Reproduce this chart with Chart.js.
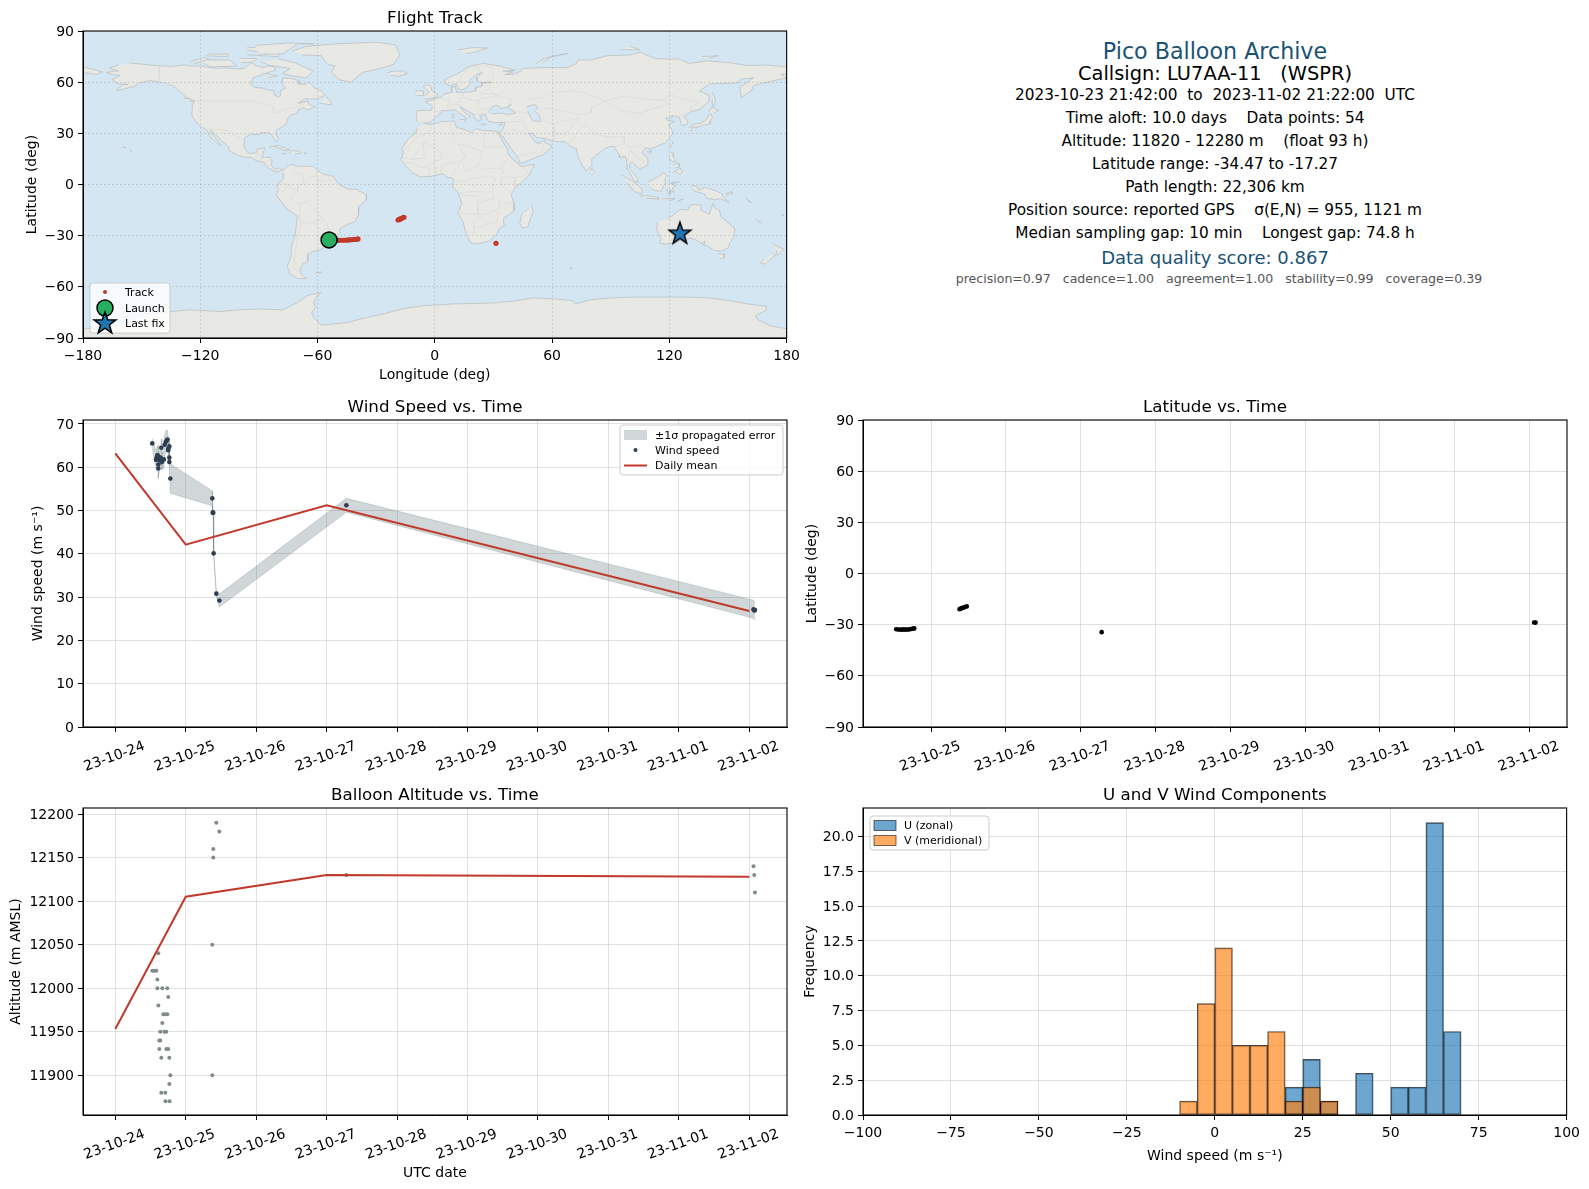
<!DOCTYPE html>
<html>
<head>
<meta charset="utf-8">
<title>Pico Balloon Archive</title>
<script src="https://cdn.jsdelivr.net/npm/chart.js"></script>
<style>
  html, body { margin: 0; background: #fff; }
  #page { position: relative; width: 1589px; height: 1189px; overflow: hidden; font-family: "DejaVu Sans", sans-serif; }
  canvas { position: absolute; }
  .info { position: absolute; left: 863px; width: 704px; text-align: center; white-space: pre; transform: translateY(-50%); color: #000; font-size: 15.3px; }
</style>
</head>
<body>
<div id="page"></div>
<script>
// flight data, days are counted from 2023-10-24 00:00 UTC
const windDays = [0.525, 0.578, 0.587, 0.597, 0.611, 0.611, 0.611, 0.625, 0.643, 0.653, 0.662, 0.69, 0.701, 0.715, 0.729, 0.743, 0.752, 0.752, 0.767, 0.767, 0.767, 0.781, 1.377, 1.382, 1.391, 1.396, 1.434, 1.477, 3.28, 9.06, 9.07, 9.08];
const windSpeed = [65.5, 61.7, 62.2, 62.8, 62.5, 60.6, 59.7, 61.6, 62.2, 64.5, 61.2, 61.8, 65.2, 65.8, 66.2, 66.4, 64.3, 63.9, 64.8, 62.2, 61.2, 57.4, 52.8, 49.5, 49.5, 40.1, 30.8, 29.2, 51.2, 27.2, 26.9, 27.0];
const windSigma = [1.2, 2.0, 2.2, 2.0, 2.5, 2.5, 2.3, 2.0, 1.8, 2.0, 1.8, 2.0, 2.3, 2.5, 2.5, 2.0, 1.5, 1.5, 1.2, 1.0, 0.8, 3.4, 1.7, 0.6, 0.6, 0.6, 0.7, 1.5, 1.6, 2.1, 2.1, 2.1];

const meanDays = [0, 1, 3, 9];
const meanWind = [63.2, 42.1, 51.2, 26.8];
const meanAltitude = [11953, 12105, 12130, 12128];

const altDays = [0.525, 0.553, 0.582, 0.597, 0.597, 0.611, 0.611, 0.625, 0.625, 0.639, 0.639, 0.653, 0.653, 0.667, 0.667, 0.681, 0.696, 0.71, 0.71, 0.713, 0.724, 0.724, 0.738, 0.738, 0.752, 0.752, 0.767, 0.767, 0.771, 0.781, 1.377, 1.377, 1.391, 1.391, 1.434, 1.477, 3.28, 9.06, 9.07, 9.08];
const altitude = [12020, 12020, 12020, 12010, 12000, 12040, 11980, 11940, 11930, 11950, 11940, 11920, 11880, 12000, 11960, 11970, 11950, 11970, 11880, 11870, 11950, 11930, 12000, 11970, 11990, 11930, 11920, 11890, 11870, 11900, 12050, 11900, 12160, 12150, 12190, 12180, 12130, 12140, 12130, 12110];

const latDays = [0.534, 0.564, 0.595, 0.615, 0.635, 0.655, 0.675, 0.696, 0.716, 0.736, 0.756, 0.776, 1.381, 1.396, 1.411, 1.431, 1.452, 1.477, 3.28, 9.06, 9.08];
const latitude = [-32.7, -32.9, -32.9, -32.9, -32.8, -32.9, -32.8, -32.8, -32.7, -32.5, -32.3, -32.2, -20.9, -20.6, -20.3, -20.0, -19.7, -19.3, -34.4, -28.7, -28.8];

const trackLon = [-54.1, -52.5, -51, -49.5, -48, -46.5, -45, -44, -43, -42, -41, -40, -39.3, -18.8, -18.2, -17.6, -17, -16.4, -15.8, 31.3];
const trackLat = [-32.5, -32.8, -32.8, -32.8, -32.7, -32.7, -32.6, -32.5, -32.4, -32.3, -32.2, -32.1, -31.9, -20.8, -20.5, -20.2, -19.8, -19.5, -19.2, -34.5];
const launchFix = [-54.1, -32.5];
const lastFix = [125.4, -28.6];

const binEdges = [-100, -95, -90, -85, -80, -75, -70, -65, -60, -55, -50, -45, -40, -35, -30, -25, -20, -15, -10, -5, 0, 5, 10, 15, 20, 25, 30, 35, 40, 45, 50, 55, 60, 65, 70, 75, 80, 85, 90, 95];
const uCounts = [0, 0, 0, 0, 0, 0, 0, 0, 0, 0, 0, 0, 0, 0, 0, 0, 0, 0, 0, 0, 0, 0, 0, 0, 2, 4, 1, 0, 3, 0, 2, 2, 21, 6, 0, 0, 0, 0, 0, 0];
const vCounts = [0, 0, 0, 0, 0, 0, 0, 0, 0, 0, 0, 0, 0, 0, 0, 0, 0, 0, 1, 8, 12, 5, 5, 6, 1, 2, 1, 0, 0, 0, 0, 0, 0, 0, 0, 0, 0, 0, 0, 0];

const infoLines = [
  "Pico Balloon Archive",
  "Callsign: LU7AA-11   (WSPR)",
  "2023-10-23 21:42:00  to  2023-11-02 21:22:00  UTC",
  "Time aloft: 10.0 days    Data points: 54",
  "Altitude: 11820 - 12280 m    (float 93 h)",
  "Latitude range: -34.47 to -17.27",
  "Path length: 22,306 km",
  "Position source: reported GPS    σ(E,N) = 955, 1121 m",
  "Median sampling gap: 10 min    Longest gap: 74.8 h",
  "Data quality score: 0.867",
  "precision=0.97   cadence=1.00   agreement=1.00   stability=0.99   coverage=0.39",
];

// map outlines as [lon, lat]
const northAmerica = [[-156.6,71.3],[-152,70.8],[-145,70],[-140.9,69.6],[-135,69.2],[-128,70.2],[-125,69.5],[-120,69.5],[-115,68.5],[-110,68],[-108,68.5],[-102,67.8],[-98,68],[-96,69.5],[-94,71.5],[-92,70],[-88,68.5],[-85,69.5],[-82,69],[-81.5,67],[-87,65],[-93,62.5],[-94.5,59],[-92.5,57],[-88,56.5],[-85,55.3],[-82.3,55],[-82,52.5],[-80,51.3],[-78.7,52.5],[-79,55],[-76.5,56.5],[-78,59],[-78,62.4],[-73.5,62.3],[-70,61],[-69.5,58.8],[-66,58.8],[-64.5,60.3],[-61.5,56.5],[-58,54.8],[-56,52.5],[-60,50.2],[-66.5,50.2],[-70,47.5],[-65,49],[-64.5,47],[-61,45.5],[-65.5,43.7],[-67,45],[-70,43.7],[-70.5,41.7],[-74,40.6],[-75.5,38],[-76,35.5],[-78,33.9],[-81,32],[-81.3,30],[-80,26.8],[-80.5,25.2],[-81.8,26],[-82.8,28],[-84,30],[-86,30.4],[-89.5,30.2],[-90,29.1],[-94,29.6],[-97.2,27.5],[-97.7,22.5],[-95.8,18.8],[-94.5,18.2],[-91.5,18.5],[-90.5,21],[-87,21.5],[-87.8,18.3],[-88.5,16],[-84,15.8],[-83.3,14.8],[-83.6,11],[-82,9],[-79.5,9.6],[-77.3,8.5],[-78.5,8.4],[-80.5,7.3],[-83,8.3],[-85.7,10],[-87.5,13],[-91.5,14],[-94,16],[-96.5,15.7],[-101.5,17.5],[-105.5,20],[-105.5,22],[-109,25.6],[-112.5,29.5],[-114.7,31.7],[-114.5,30],[-112.5,27.5],[-110.5,24.5],[-109.5,23],[-110,23],[-112,25],[-115,28],[-116,30.5],[-117.2,32.5],[-120.5,34.5],[-122.5,37.5],[-124.3,40.3],[-124,46.5],[-122.8,49],[-127,51],[-130.5,54.5],[-134,58],[-139.5,59.8],[-146,61],[-151,59.5],[-154,57.5],[-158,56.3],[-163,54.8],[-160,58.5],[-157,58.8],[-162,59],[-165,61.5],[-161,64],[-165,64.5],[-168,65.6],[-164,66.5],[-162,66.5],[-166.5,68.3],[-162,70]];
const southAmerica = [[-77.3,8.5],[-75.5,10.7],[-72,12],[-71.5,10.8],[-68,10.7],[-62,10.7],[-60,8.4],[-57,6],[-52,4.8],[-50,1.5],[-48.5,-0.5],[-44.5,-2.6],[-40,-2.9],[-37,-4.9],[-35,-6],[-35,-9],[-39,-13],[-39,-17.5],[-41,-22],[-44.5,-23.2],[-48.5,-26],[-48.7,-28.5],[-52,-32.2],[-54,-34.5],[-58.3,-34.2],[-57,-36.5],[-58,-38.3],[-62,-39],[-65,-41],[-65,-45],[-67.5,-46.5],[-69,-50.5],[-68.5,-52.5],[-65.5,-55],[-70,-55.2],[-74,-52.5],[-75.5,-48],[-73.5,-42],[-73.5,-37],[-71.5,-30],[-70.3,-18.5],[-76,-14],[-81.2,-6],[-80,-3],[-80.8,-1],[-78.5,2],[-77.2,4],[-77.5,7]];
const africa = [[-6,35.8],[-2,35.2],[3,36.8],[10,37.3],[11,33.5],[15,32.3],[19,30.3],[21,32.8],[25,31.7],[32,31.2],[32.5,30],[33.8,27],[37,21],[37.5,18],[39.5,15],[43,12],[44,10.5],[51,11.8],[48,5],[41,-2],[39,-6],[40.5,-11],[40.5,-15.5],[35,-20],[35.5,-24],[32.8,-26],[32,-29],[28,-33],[25,-34],[20,-34.8],[18.3,-34],[16,-29],[14.5,-22],[11.8,-17],[13.8,-11],[12,-5],[9,-1],[9.7,3.5],[6,4.3],[4.5,6.3],[-2,4.8],[-7.5,4.4],[-11.5,7],[-15,11],[-17.3,14.7],[-16,19],[-17,21],[-13,27.6],[-9.8,30],[-9,33]];
const eurasia = [[-5.5,36],[-2,36.8],[0,39],[3,42],[3.5,43.3],[6.5,43.2],[10,44],[12,42],[15.5,40],[16,38],[17,39],[18.3,40],[15.5,42],[13,45.5],[14,45],[17,43],[19.5,41.5],[20,39.5],[22,37],[24,38],[23,40.5],[26,41],[26.5,39],[27.5,37],[30.5,36.3],[36,36.5],[35,33],[34.5,31.5],[32.5,30.5],[34.5,28],[35,28],[39,21],[42.5,16],[43.5,12.7],[45,12.8],[52,16],[55.5,17.5],[59,21],[59.8,22.8],[56.5,24.5],[56,26.3],[54,24.2],[51.5,24.5],[50.2,26.5],[48,30],[50,30],[52,27.5],[56.5,27],[61,25.2],[67,25],[69,22.5],[72.5,21],[73,17],[75,12],[77.5,8],[80,11],[80.3,15],[83,17.5],[87,21],[89,22],[91.5,22.5],[94.3,17.5],[94.5,16],[97.5,16.5],[98.5,12],[98.5,9],[100.5,5.5],[101.5,2.7],[104,1.3],[103.5,4],[102,6.5],[100,8.5],[99.5,11.5],[100.8,13.4],[103,11],[105,8.8],[106.5,10],[109,11.5],[109,15],[106,19],[108,21.5],[110.5,21],[114,22.5],[118,24.5],[120.5,28],[122,30.5],[121,32.5],[119.5,35],[122.5,37],[119,37.5],[118,39],[121.5,39],[121,40.5],[125,39.7],[125.5,37.5],[126.5,34.5],[129,35.2],[129.5,37],[127.5,39.7],[129.8,41.5],[131,42.7],[135.5,44],[140,48.5],[140.5,52],[137,54],[135.3,54.8],[141,59],[148,59.3],[155,59.5],[156.5,61.8],[163,62.5],[160,60],[156,57],[156.7,51],[162,55],[163,58],[170,60],[179.9,62.5],[177,64.5],[180,65],[180,69],[170,70],[160,69.8],[150,71.5],[140,72.5],[130,71],[125,73.5],[113,73.7],[105,77.5],[100,76],[88,75.5],[80,73],[73,73],[72.5,71],[68,68.5],[60,68.5],[55,68.5],[45,68],[44,66.5],[40,64.5],[36,64.5],[40,66],[35,66.5],[41,67],[33,69.5],[25,71],[18,69.5],[12.5,65.5],[5,61.5],[5.5,58.8],[8,58],[11,59],[12,56],[13,55.4],[16,56.2],[18.5,60],[17.5,61],[21.5,64.5],[24.5,65.8],[21.5,63],[21.5,61],[23,60],[29,60],[24,59.3],[24,57.5],[21,57],[21,55],[19,54.4],[14,54],[11,54],[10.5,57.5],[8.3,57],[8.7,54],[5,53.2],[3.5,51.5],[1.5,50.8],[-1.5,49.7],[-4.7,48.5],[-1.2,46],[-1.8,43.5],[-9,43.5],[-9.5,38.5],[-9,37]];
const greenland = [[-73,78.2],[-66,81],[-50,82.5],[-30,83.5],[-20,81.8],[-18,76],[-21,70.5],[-27,68.3],[-37,65.7],[-43,60],[-49,61.5],[-53,66],[-51,69.5],[-55,70.5],[-58,75.5],[-68,76]];
const australia = [[114,-22],[113.5,-26],[115.7,-32],[115,-34.3],[118,-35],[123.5,-33.9],[126,-32.3],[131,-31.5],[134,-32.8],[137.8,-35.3],[138,-33],[136.5,-35],[139.5,-36],[143,-38.7],[146.5,-39],[150,-37.3],[151,-34],[153,-31],[153.5,-26],[150.8,-23],[146.5,-19],[145.5,-15],[143.5,-14],[142.5,-10.8],[141.5,-14],[140.5,-17.5],[136,-15],[136.5,-12],[131,-11.8],[129.5,-15],[125.5,-14.5],[122,-18],[119,-20]];
const antarctica = [[-180,-84.5],[-170,-84],[-160,-82],[-150,-77],[-140,-75],[-125,-73.5],[-110,-74.5],[-100,-73.5],[-90,-73],[-78,-73.5],[-75,-72],[-70,-69],[-65,-65],[-58,-63.2],[-60,-65],[-62,-69],[-61,-72],[-63,-75],[-62,-78],[-58,-82.5],[-45,-81],[-35,-78],[-25,-75.5],[-15,-72.5],[-5,-71],[10,-70],[30,-69.5],[33,-69],[40,-68.5],[50,-66.5],[60,-67],[70,-68],[72,-70],[80,-67.5],[90,-66.5],[100,-66],[115,-66],[130,-66],[140,-66.5],[150,-68],[160,-70],[170,-71.5],[169,-74],[164,-77],[165,-79],[172,-83],[180,-84.5],[180,-90],[-180,-90]];
const islands = [
  [[-180,69],[-175,67.5],[-170,66],[-173,64.5],[-178,65.5],[-180,65]],
  [[-80,73.7],[-72,71.5],[-67,69],[-62,66.5],[-66,62.5],[-72,63.5],[-78,65],[-74,68],[-85,70],[-89,72]],
  [[-117,73],[-105,73],[-101,69.5],[-115,69],[-118,71]],
  [[-125,72],[-118,74.5],[-115.5,73.5],[-123,71]],
  [[-90,76.5],[-78,76.5],[-70,82.5],[-62,82.5],[-75,83],[-92,81.5]],
  [[-96,76],[-80,75],[-80,76.2]],
  [[-117,75.5],[-106,75],[-106,76.5],[-116,76.5]],
  [[-87,65],[-80.5,63.8],[-85,62.8]],
  [[-59,47.7],[-53,46.7],[-53,48.5],[-55.7,51.5]],
  [[-128.3,50.7],[-125,50],[-123.4,48.4],[-125.5,48.8]],
  [[-100,74],[-91,73.8],[-93,71.8],[-99,71.5]],
  [[-96,80.5],[-88,80],[-91,78],[-96,79]],
  [[-84.8,21.9],[-80,23],[-74.2,20.2],[-77.5,19.9],[-78,20.7],[-82,22.4]],
  [[-74.4,18.4],[-73,19.9],[-69,19.4],[-68.4,18.5],[-71.5,17.8]],
  [[-78.3,18.3],[-76.3,18],[-77,17.8]],
  [[-67.2,18.4],[-65.6,18.3],[-66.5,18]],
  [[-156,20],[-155,19.7],[-155.7,19]],
  [[-160,22.2],[-158,21.6],[-159,21.4]],
  [[-61,-51.8],[-58,-51.3],[-59,-52.3]],
  [[69,-49.2],[70.5,-49],[69.5,-49.7]],
  [[-24,65.5],[-22,66.4],[-16,66.5],[-14,65],[-18.5,63.5],[-22.5,64]],
  [[-5.5,50],[1,51.2],[1.5,52.8],[-1.5,55],[-2,57.5],[-3.5,58.6],[-6,57.5],[-3,54],[-5,52]],
  [[-10,52],[-6,52.2],[-5.8,54.8],[-8.5,55.2],[-10,54]],
  [[12,79],[20,80.3],[27,80],[20,77.5],[16,76.7]],
  [[52,71],[56,74],[68,76.8],[60,75.3],[55,71.5]],
  [[95,79],[105,79],[100,81]],
  [[137,75],[145,75.5],[140,74]],
  [[142,54.2],[143.5,49.5],[143,46.5],[142,46],[142,50]],
  [[140,42.5],[141.7,45.4],[145.3,43.5],[143,42]],
  [[131,34.3],[133,35.5],[136,35.8],[139,38],[140,40.5],[141.3,41.3],[142,39.5],[141,37],[140.8,35.5],[137,34.6],[135,33.6],[132,33.9]],
  [[130,33.5],[131.7,33.5],[131.5,31.5],[130.3,31.2]],
  [[132.3,33.5],[134.5,34],[133.5,33]],
  [[121,25],[122,25],[120.8,22],[120.1,23]],
  [[108.7,19.3],[110.5,20],[110.5,18.7],[109,18.2]],
  [[120.5,18.5],[122.2,18.4],[122,16],[124,13],[120.6,13.8],[120,16]],
  [[122,7],[125.5,9.7],[126.5,7.5],[125.5,5.7],[123.5,7.7]],
  [[122,11.7],[125,12.4],[125,10.2],[122.7,9.7]],
  [[95.3,5.6],[98,4],[103.5,0],[106,-3],[105.8,-5.8],[102,-4],[98.5,1]],
  [[105.2,-6.8],[108.5,-6.5],[114.5,-7.7],[114.5,-8.7],[108,-7.8]],
  [[109,1.5],[111.5,2.7],[115,5],[117,7],[119,5],[117.7,3.5],[118,1],[116.5,-2],[116,-4],[111.7,-3.3],[110,-1.5]],
  [[120,1],[125,1.5],[121,0.4],[123.3,-0.9],[121.5,-1.8],[122.5,-4.8],[120.5,-3],[120.4,-5.6],[119.5,-5.4],[119,-2.5]],
  [[131,-0.8],[134,-0.8],[135,-3.3],[138,-1.7],[141,-2.6],[145,-4.3],[147.5,-6],[147,-6.8],[150.5,-10.5],[146,-8.3],[143,-9],[139,-8],[138,-5.5],[133,-4],[132,-2.8]],
  [[148.5,-5.6],[152,-4.2],[152,-5.5],[149,-6.3]],
  [[124,-10],[127,-8.4],[125,-9.5]],
  [[116,-8.5],[119,-8.3],[123,-8.4],[120,-9.5]],
  [[79.8,8],[80,9.7],[81.8,7.5],[80.5,6]],
  [[49.3,-12],[50.4,-15.5],[47.5,-24.8],[45,-25.5],[43.5,-23],[44.5,-17],[48,-14]],
  [[144.7,-40.7],[148.3,-40.8],[148,-43],[146,-43.6]],
  [[172.7,-34.5],[175.5,-36.5],[178.5,-37.7],[177,-39.7],[175.2,-41.6],[174.7,-38.5]],
  [[172.7,-40.5],[174.3,-41.7],[171,-44.5],[169,-46.7],[166.5,-46],[168.5,-44]],
  [[164,-20],[167,-22.4],[165.5,-21.8]],
  [[159,-8],[162,-10.5],[160,-9.5]],
  [[177.5,-17.5],[178.5,-18],[177.5,-18.2]],
  [[8.2,41],[9.7,40.8],[9.5,39.1],[8.5,39]],
  [[12.5,38],[15.6,38.2],[15,36.7]],
  [[23.5,35.5],[26.3,35.3],[24,34.9]],
  [[32.3,35],[34.5,35.6],[33,34.6]],
];
const inlandSeas = [
  [[28,41.6],[27.7,43],[29,45.3],[30.7,46.5],[33,45.8],[33.5,44.5],[36.5,45.2],[39,47],[37.5,45],[41.5,42],[38,41],[33,42],[29,41.3]],
  [[47,45.5],[51,47],[53,45],[51,43],[53.5,40.5],[54,37],[50,37.3],[49,39.5],[47.5,43]],
];
const countryBorders = [
  [[-140.9,69.6],[-141,60.3],[-137,59],[-134,58]],
  [[-122.8,49],[-95,49],[-89,48],[-83,46],[-82.5,42],[-79,43],[-75,45],[-71,45],[-67.5,47],[-67,45]],
  [[-117,32.5],[-114.7,32.5],[-106.5,31.8],[-103,29],[-97.2,25.9]],
  [[-92,14.5],[-91,17.5],[-89,17.8],[-88.3,18.4]],
  [[-89.3,15.9],[-88,13.5]], [[-83.2,15],[-87.5,13]], [[-83.7,11],[-85.7,11]], [[-83,8.5],[-82.6,9.5]],
  [[-72,11.8],[-72.5,7.5],[-67.5,6],[-67,1.2],[-70,-0.5],[-70,-4.2],[-75,0],[-78.8,1.4]],
  [[-75,-0.5],[-78.5,-4.8],[-80.3,-3.5]],
  [[-70,-4.2],[-74,-7.5],[-70.5,-11],[-69,-12.5],[-69.5,-17.5],[-67.5,-22.8],[-62.6,-22],[-58,-20],[-60,-16],[-65,-10],[-69,-11]],
  [[-69.5,-17.5],[-68.5,-24],[-70.5,-33],[-71.5,-40],[-72,-50],[-68.5,-52.5]],
  [[-62.6,-22],[-58,-27.3],[-54.6,-25.6],[-55.5,-22.3],[-58,-20]],
  [[-54.6,-25.6],[-53.8,-27.5],[-57.6,-30.2],[-58.3,-34]],
  [[-57.6,-30.2],[-53.5,-33.8]],
  [[-60,8.4],[-60.7,5.2],[-64,4],[-67,1.2]],
  [[-57,6],[-58,2]], [[-54,5.8],[-54.5,2.3]],
  [[-51.7,4.1],[-52.5,2.5],[-60,1.5],[-60.7,5.2]],
  [[-2,35],[-1.5,32],[-8.7,27.7],[-13,27.6]],
  [[8.5,37],[8,33],[9.5,30],[10,24.5],[12,23.5],[15,23],[24,19.5],[25,20],[25,31.6]],
  [[11.5,33],[9.5,30]], [[25,22],[36.8,22]],
  [[-12,14.5],[-5,25],[3,19],[4,15.5],[-5,10.5]],
  [[12,23.5],[15.5,16.5],[13.5,13.7],[4,11.5]],
  [[24,19.5],[22.5,11],[15.5,7.5],[14.5,13]],
  [[3,6.4],[3.7,11.5]], [[8.7,4.6],[13.5,13.7]],
  [[12,-5],[18,-4],[29.5,-4.5]],
  [[9.7,2.2],[16,2],[18.5,3.5],[27.5,5],[31,3.7],[29.5,-1.4],[30,-8],[22,-11],[22,-7],[12.5,-6]],
  [[11.8,-17],[24,-17.6]],
  [[22,-11],[22,-17],[25,-17.8],[33,-14],[33,-9.5],[30,-8]],
  [[16.5,-28.6],[20,-28.4],[20,-22],[25,-17.8]],
  [[20,-25],[23,-25.3],[29.3,-22.2],[31.3,-22.4]],
  [[33,-14],[35.5,-11.3],[40.4,-10.5]],
  [[32.8,-26],[31.3,-22.4],[33,-17],[30.4,-15.6]],
  [[43,11],[48,8],[45,5],[41,4],[41,-1.7]],
  [[41,4],[36,4.5],[34,4],[34,-1],[39.3,-4.7]],
  [[36.5,14.5],[34,9.5],[36,4.5]],
  [[43,12.5],[38,17.5]], [[24,9],[34,9.5]],
  [[-16.8,13],[-11.5,12.5],[-8,10.5],[-2.8,9.5],[-3,5]], [[1.2,6],[0.5,11]],
  [[-17,21],[-13,21.3],[-13,23],[-8.7,27.3]], [[-16.5,16],[-12,14.7],[-5.5,15.5],[-6,25]],
  [[-1.8,43.4],[3.2,42.4]],
  [[2.5,51],[6,49.5],[8,49],[7.5,47.6],[6,46],[7.5,43.8]],
  [[14.2,54],[14.8,51],[12,50.3],[13.5,48.6],[10,47.5]],
  [[7,46],[10,46.8],[13.7,46.5]],
  [[23.5,54],[24,50.5],[22.5,49],[19,49.5],[14.8,51]],
  [[24,50.5],[32,52.2],[40,49.6],[38,47.2]],
  [[22.5,49],[22,44.5],[28.5,44]], [[20,41],[26.5,41.7]],
  [[23.5,54],[28,56],[28,59.5]], [[23.5,53.5],[31,53],[28,56]],
  [[11,59],[12.5,61],[14,64.5],[18,68.5],[20.5,69],[29,69.5],[28,70]],
  [[24,65.8],[20.5,69]], [[29,69.5],[30,63],[28,60.5]],
  [[40,43.5],[47.7,41.5]],
  [[47,50],[55,51],[61,54],[70,55],[77,53.5],[87,49],[98,52],[107,50],[117,49.7],[120,53],[127,50],[135,48.4],[131,45],[131,42.7]],
  [[87,49],[96,43],[105,41.7],[112,44.8],[120,47],[116,50]],
  [[87,49],[80,45],[80,42],[74,41],[70,42],[66,43],[56,45],[53,42]],
  [[54,37.5],[61,35.5],[66,37.5],[71,38],[74,39]],
  [[44.5,39.5],[46,35],[48.5,30]], [[61,35.5],[61,25.2]],
  [[61,29.5],[66,29.5],[70,33],[71,36.5],[74,37]],
  [[68,23.7],[71,27.5],[74,32.5],[77,35],[81,30],[88,28],[97,28],[97,24],[92,22]],
  [[97,24],[100,21.5],[106,23],[108,21.5]],
  [[98.5,10],[99,16],[100,20],[105,15],[107.5,14],[105,10.5]],
  [[36,36.5],[44.5,37]],
  [[35,29.5],[39,32.5],[48,29.5]],
  [[52,16.5],[55,20],[56,24.5]], [[42.5,16.5],[52,19]],
  [[124.5,40],[130.5,42.5]],
];

const DAY_MS = 86400000;
const DAY_ZERO = Date.UTC(2023, 9, 24);
const SANS = "'DejaVu Sans', sans-serif";
const GRID = "rgba(176,176,176,0.38)";
const MAP_GRID = "rgba(120,120,120,0.22)";
const RED = "#c0392b";
const SLATE = "#2c3e50";
const NAVY = "#1a5276";

Chart.defaults.font.family = SANS;
Chart.defaults.font.size = 14;
Chart.defaults.color = "#000";
Chart.defaults.animation = false;

const page = document.getElementById("page");

// top and style of each line of the text block
const infoStyle = [
  { top: 51, size: 22.2, color: NAVY },
  { top: 73, size: 19.4 },
  { top: 94.5 },
  { top: 118 },
  { top: 141 },
  { top: 164 },
  { top: 187 },
  { top: 210 },
  { top: 233 },
  { top: 257, size: 18, color: NAVY },
  { top: 278, size: 12.55, color: "#555", shift: 4 },
];

infoLines.forEach((text, i) => {
  const s = infoStyle[i];
  const div = document.createElement("div");
  div.className = "info";
  div.textContent = text;
  div.style.top = s.top + "px";
  if (s.size) div.style.fontSize = s.size + "px";
  if (s.color) div.style.color = s.color;
  if (s.shift) div.style.marginLeft = s.shift + "px";
  page.appendChild(div);
});

function pairs(xs, ys) {
  return xs.map((x, i) => ({ x: x, y: ys[i] }));
}

function lonLat(list) {
  return list.map((p) => ({ x: p[0], y: p[1] }));
}

function minusSign(v) {
  return String(v).replace("-", "\u2212");
}

function dayLabel(v) {
  const d = new Date(DAY_ZERO + v * DAY_MS);
  const mm = String(d.getUTCMonth() + 1).padStart(2, "0");
  const dd = String(d.getUTCDate()).padStart(2, "0");
  return "23-" + mm + "-" + dd;
}

function starCanvas() {
  const c = document.createElement("canvas");
  c.width = c.height = 26;
  const ctx = c.getContext("2d");
  ctx.beginPath();
  for (let i = 0; i < 10; i++) {
    const r = i % 2 ? 4.6 : 11.5;
    const a = -Math.PI / 2 + (i * Math.PI) / 5;
    ctx.lineTo(13 + r * Math.cos(a), 13.5 + r * Math.sin(a));
  }
  ctx.closePath();
  ctx.fillStyle = "#1f77b4";
  ctx.fill();
  ctx.lineWidth = 1.5;
  ctx.strokeStyle = "#000";
  ctx.lineJoin = "miter";
  ctx.stroke();
  return c;
}
const starImage = starCanvas();

// spines, ocean background and the small legend boxes
const framePlugin = {
  id: "frame",
  beforeDatasetsDraw(chart, args, opts) {
    if (!opts.background) return;
    const a = chart.chartArea;
    chart.ctx.fillStyle = opts.background;
    chart.ctx.fillRect(a.left, a.top, a.right - a.left, a.bottom - a.top);
  },
  afterDraw(chart, args, opts) {
    const ctx = chart.ctx;
    const a = chart.chartArea;
    ctx.save();
    ctx.setLineDash([]);
    ctx.strokeStyle = "#000";
    ctx.lineWidth = 1.1;
    ctx.strokeRect(a.left, a.top, a.right - a.left, a.bottom - a.top);
    if (opts.legend) drawLegend(ctx, a, opts.legend);
    ctx.restore();
  },
};

function drawLegend(ctx, a, lg) {
  const x0 = a.left + lg.box[0];
  const y0 = a.top + lg.box[1];
  ctx.beginPath();
  ctx.roundRect(x0, y0, lg.box[2], lg.box[3], 3);
  ctx.fillStyle = "rgba(255,255,255,0.8)";
  ctx.fill();
  ctx.strokeStyle = "#ccc";
  ctx.lineWidth = 1;
  ctx.stroke();
  ctx.font = "11px " + SANS;
  ctx.textBaseline = "middle";
  ctx.textAlign = "left";
  lg.items.forEach((it) => {
    const y = a.top + it.y;
    const cx = a.left + lg.symbolX + lg.symbolW / 2;
    if (it.kind === "patch") {
      ctx.fillStyle = it.color;
      ctx.fillRect(a.left + lg.symbolX, y - 5, lg.symbolW, 10);
      if (it.edge) {
        ctx.strokeStyle = it.edge;
        ctx.lineWidth = 0.8;
        ctx.strokeRect(a.left + lg.symbolX, y - 5, lg.symbolW, 10);
      }
    } else if (it.kind === "line") {
      ctx.strokeStyle = it.color;
      ctx.lineWidth = 2;
      ctx.beginPath();
      ctx.moveTo(a.left + lg.symbolX, y);
      ctx.lineTo(a.left + lg.symbolX + lg.symbolW, y);
      ctx.stroke();
    } else if (it.kind === "star") {
      ctx.drawImage(starImage, cx - 13, y - 13);
    } else {
      ctx.beginPath();
      ctx.arc(cx, y, it.r, 0, Math.PI * 2);
      ctx.fillStyle = it.color;
      ctx.fill();
      if (it.edge) {
        ctx.strokeStyle = it.edge;
        ctx.lineWidth = 1.5;
        ctx.stroke();
      }
    }
    ctx.fillStyle = "#000";
    ctx.fillText(it.label, a.left + lg.textX, y + 1);
  });
}

function axis(o) {
  return {
    type: "linear",
    min: o.min,
    max: o.max,
    offset: false,
    title: o.title ? { display: true, text: o.title, padding: 0, font: { size: 14, lineHeight: "17px" } } : { display: false },
    grid: { color: o.gridColor || GRID, lineWidth: 1, tickColor: "#000", tickLength: 5, tickWidth: 1, offset: false, z: o.gridOnTop ? 1 : -1 },
    border: { color: "#000", width: 1, dash: o.dash, z: 2 },
    ticks: Object.assign({ stepSize: o.step, includeBounds: false, autoSkip: false, padding: 5, color: "#000", callback: o.format || minusSign, maxRotation: 0, minRotation: 0 }, o.ticks || {}),
    afterFit(scale) {
      if (scale.isHorizontal()) scale.height = o.gutter;
      else scale.width = o.gutter;
    },
  };
}

function yAxis(o) {
  o.ticks = { labelOffset: 1, padding: 4 };
  return axis(o);
}

function dayAxis(min, max, gutter, title) {
  return axis({
    min: min, max: max, step: 1, gutter: gutter, title: title, format: dayLabel,
    ticks: { maxRotation: 20, minRotation: 20, labelOffset: 29, padding: 6 },
  });
}

// plot is [left, top, width, height] of the axes box on the page
function panel(plot, title, datasets, xScale, yScale, frame) {
  const TITLE_BLOCK = 23;
  const PAD_RIGHT = 18;
  const canvas = document.createElement("canvas");
  canvas.width = plot[2] + yScale.gutterWidth + PAD_RIGHT;
  canvas.height = TITLE_BLOCK + plot[3] + xScale.gutterHeight;
  canvas.style.left = plot[0] - yScale.gutterWidth + "px";
  canvas.style.top = plot[1] - TITLE_BLOCK + "px";
  page.appendChild(canvas);
  return new Chart(canvas, {
    type: "line",
    data: { datasets: datasets },
    plugins: [framePlugin],
    options: {
      responsive: false,
      devicePixelRatio: 1,
      layout: { padding: { left: 0, top: 0, right: PAD_RIGHT, bottom: 0 } },
      elements: { line: { tension: 0 } },
      scales: { x: xScale, y: yScale },
      plugins: {
        legend: { display: false },
        tooltip: { enabled: false },
        title: { display: true, fullSize: false, text: title, color: "#000", padding: { top: 1, bottom: 2 }, font: { size: 16.7, weight: "normal", lineHeight: "20px" } },
        frame: frame || {},
      },
    },
  });
}

function withGutter(ax, width, height) {
  ax.gutterWidth = width;
  ax.gutterHeight = height;
  return ax;
}

function landSet(list, color, order) {
  return { data: lonLat(list), borderColor: "#bcc1c4", borderWidth: 0.8, backgroundColor: color, fill: "shape", pointRadius: 0, order: order };
}

function pointSet(data, color, radius, order) {
  return { data: data, showLine: false, pointRadius: radius, pointBackgroundColor: color, pointBorderWidth: 0, order: order };
}

const LAND = "#e8e8e4";
const OCEAN = "#d4e6f1";

// --- flight track map ---
const mapSets = [
  pointSet(pairs(trackLon, trackLat), RED, 2.6, 3),
  { data: [{ x: launchFix[0], y: launchFix[1] }], showLine: false, pointRadius: 8, pointBackgroundColor: "#27ae60", pointBorderColor: "#000", pointBorderWidth: 1.5, order: 2 },
  { data: [{ x: lastFix[0], y: lastFix[1] }], showLine: false, pointStyle: starImage, order: 1 },
  { data: countryBorders.flatMap((seg) => lonLat(seg).concat([{ x: NaN, y: NaN }])), borderColor: "#dcdcd8", borderWidth: 0.8, pointRadius: 0, fill: false, order: 10 },
];
inlandSeas.forEach((s) => mapSets.push(landSet(s, OCEAN, 11)));
[northAmerica, southAmerica, africa, eurasia, greenland, australia, antarctica].concat(islands).forEach((s) => mapSets.push(landSet(s, LAND, 20)));

panel(
  [83, 31, 704, 307],
  "Flight Track",
  mapSets,
  withGutter(axis({ min: -180, max: 180, step: 60, gutter: 46, title: "Longitude (deg)", gridOnTop: true, gridColor: MAP_GRID, dash: [2, 2] }), 0, 46),
  withGutter(yAxis({ min: -90, max: 90, step: 30, gutter: 59, title: "Latitude (deg)", gridOnTop: true, gridColor: MAP_GRID, dash: [2, 2] }), 59, 0),
  {
    background: OCEAN,
    legend: {
      box: [7, 252, 80, 50], symbolX: 9, symbolW: 26, textX: 42,
      items: [
        { label: "Track", kind: "dot", color: RED, r: 2, y: 261 },
        { label: "Launch", kind: "dot", color: "#27ae60", edge: "#000", r: 8, y: 277 },
        { label: "Last fix", kind: "star", y: 292 },
      ],
    },
  }
);

// --- wind speed ---
const windUpper = windSpeed.map((v, i) => v + windSigma[i]);
const windLower = windSpeed.map((v, i) => v - windSigma[i]);
const BAND = "rgba(70,95,100,0.25)";

panel(
  [83, 420, 704, 307],
  "Wind Speed vs. Time",
  [
    { data: pairs(meanDays, meanWind), borderColor: RED, borderWidth: 2, pointRadius: 0, order: 1 },
    pointSet(pairs(windDays, windSpeed), SLATE, 2.3, 2),
    { data: pairs(windDays, windUpper), borderColor: BAND, borderWidth: 0.8, backgroundColor: BAND, fill: "+1", pointRadius: 0, order: 3 },
    { data: pairs(windDays, windLower), borderColor: BAND, borderWidth: 0.8, pointRadius: 0, fill: false, order: 3 },
  ],
  withGutter(dayAxis(-0.4585, 9.535, 60), 0, 60),
  withGutter(yAxis({ min: 0, max: 70.9, step: 10, gutter: 53, title: "Wind speed (m s\u207B\u00B9)" }), 53, 0),
  {
    legend: {
      box: [537, 5, 163, 50], symbolX: 541, symbolW: 23, textX: 572,
      items: [
        { label: "\u00B11\u03C3 propagated error", kind: "patch", color: BAND, y: 15 },
        { label: "Wind speed", kind: "dot", color: SLATE, r: 2, y: 30 },
        { label: "Daily mean", kind: "line", color: RED, y: 45.5 },
      ],
    },
  }
);

// --- latitude ---
panel(
  [863, 420, 704, 307],
  "Latitude vs. Time",
  [pointSet(pairs(latDays, latitude), "#000", 2.3, 1)],
  withGutter(dayAxis(0.09, 9.5, 60), 0, 60),
  withGutter(yAxis({ min: -90, max: 90, step: 30, gutter: 59, title: "Latitude (deg)" }), 59, 0)
);

// --- altitude ---
panel(
  [83, 808, 704, 307],
  "Balloon Altitude vs. Time",
  [
    { data: pairs(meanDays, meanAltitude), borderColor: RED, borderWidth: 2, pointRadius: 0, order: 1 },
    pointSet(pairs(altDays, altitude), "#7f8c8d", 2, 2),
  ],
  withGutter(dayAxis(-0.4585, 9.535, 67, "UTC date"), 0, 67),
  withGutter(yAxis({ min: 11854.3, max: 12207, step: 50, gutter: 75, title: "Altitude (m AMSL)" }), 75, 0)
);

// --- wind components histogram ---
const binCenters = binEdges.map((e) => e + 2.5);

function histSet(counts, fill, order) {
  return {
    type: "bar",
    data: pairs(binCenters, counts).filter((p) => p.y > 0),
    backgroundColor: fill,
    borderColor: "rgba(0,0,0,0.7)",
    borderWidth: 1,
    borderSkipped: false,
    barPercentage: 1,
    categoryPercentage: 1,
    grouped: false,
    order: order,
  };
}

panel(
  [863, 808, 704, 307],
  "U and V Wind Components",
  [histSet(uCounts, "rgba(31,119,180,0.65)", 2), histSet(vCounts, "rgba(255,127,14,0.65)", 1)],
  withGutter(axis({ min: -100, max: 100, step: 25, gutter: 50, title: "Wind speed (m s\u207B\u00B9)" }), 0, 50),
  withGutter(yAxis({ min: 0, max: 22.05, step: 2.5, gutter: 61, title: "Frequency", format: (v) => v.toFixed(1) }), 61, 0),
  {
    legend: {
      box: [7, 8, 119, 34], symbolX: 11, symbolW: 22, textX: 41,
      items: [
        { label: "U (zonal)", kind: "patch", color: "rgba(31,119,180,0.65)", edge: "rgba(0,0,0,0.7)", y: 17.5 },
        { label: "V (meridional)", kind: "patch", color: "rgba(255,127,14,0.65)", edge: "rgba(0,0,0,0.7)", y: 32.5 },
      ],
    },
  }
);
</script>
</body>
</html>
